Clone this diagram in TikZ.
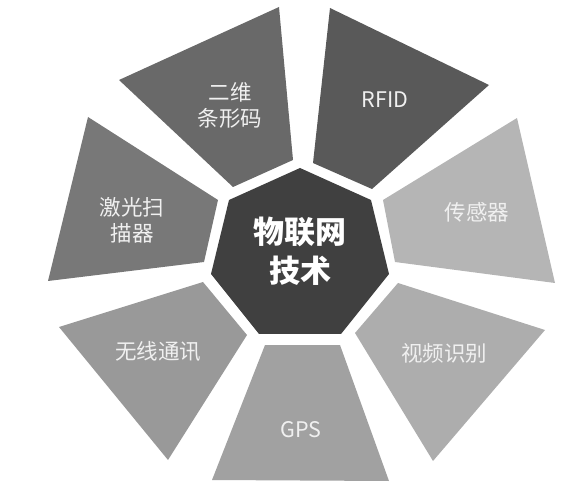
\documentclass[tikz,border=0pt]{standalone}
\usepackage{fontspec}
\setmainfont{Noto Sans CJK SC}
\usepackage{xcolor}
\usetikzlibrary{positioning}

\definecolor{hubgray}{gray}{0.25}
\definecolor{barcodegray}{gray}{0.41}
\definecolor{rfidgray}{gray}{0.35}
\definecolor{sensorgray}{gray}{0.71}
\definecolor{videogray}{gray}{0.68}
\definecolor{gpsgray}{gray}{0.63}
\definecolor{wirelessgray}{gray}{0.60}
\definecolor{lasergray}{gray}{0.47}

\tikzset{
  lbl/.style={text=white!94!black, font=\fontsize{21.5}{26}\selectfont, align=center},
  hub/.style={text=white, font=\bfseries\fontsize{31}{39}\selectfont, align=center}
}

\begin{document}
\begin{tikzpicture}[x=1pt,y=-1pt]
    \useasboundingbox (0,0) rectangle (581,494);

    % centre heptagon
    \fill[hubgray] (300,168) -- (371,200) -- (389,274) -- (341,334) -- (259,334) -- (211,274) -- (229,200) -- cycle;
    \node[hub] (iot) at (300,251) {物联网\\技术};

    % outer pieces, clockwise from top left
    \fill[barcodegray] (233,187) -- (293,160) -- (279,7) -- (119,80) -- cycle;
    \node[lbl] (barcode) at (230,105) {二维\\条形码};

    \fill[rfidgray] (313,163) -- (372,189) -- (489,85) -- (330,8) -- cycle;
    \node[lbl] (rfid) at (385,100) {RFID};

    \fill[sensorgray] (383,200) -- (395,262) -- (555,283) -- (517,118) -- cycle;
    \node[lbl] (sensor) at (477,212) {传感器};

    \fill[videogray] (398,283) -- (355,333) -- (433,461) -- (545,330) -- cycle;
    \node[lbl] (video) at (444,353) {视频识别};

    \fill[gpsgray] (265,345) -- (340,345) -- (389,481) -- (212,480) -- cycle;
    \node[lbl] (gps) at (301,430) {GPS};

    \fill[wirelessgray] (203,282) -- (247,335) -- (168,460) -- (59,327) -- cycle;
    \node[lbl] (wireless) at (158,351) {无线通讯};

    \fill[lasergray] (218,200) -- (204,262) -- (48,281) -- (88,117) -- cycle;
    \node[lbl] (laser) at (132,220) {激光扫\\描器};
\end{tikzpicture}
\end{document}
